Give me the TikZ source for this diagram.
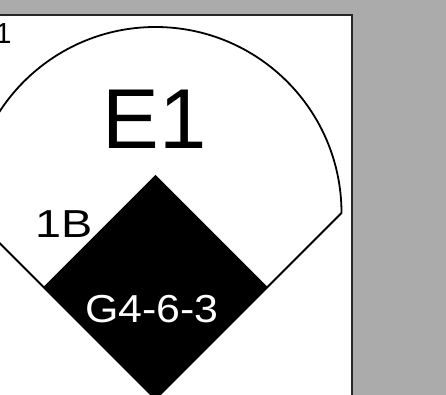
\documentclass[tikz,border=0pt]{standalone}
\usepackage{fontspec}
\setmainfont{Liberation Sans}

\definecolor{bggray}{RGB}{171,171,171}

\begin{document}
\begin{tikzpicture}[
  x=1pt, y=1pt,
  fieldline/.style={draw=black, line width=1.8pt, line join=round},
  cardbox/.style={fill=white, draw=black!85, line width=2pt},
  lbl/.style={inner sep=0pt, anchor=base west},
  bigtxt/.style={lbl, font=\fontsize{85}{85}\selectfont},
  smalltxt/.style={lbl, font=\fontsize{39}{39}\selectfont}
]
\clip (0,0) rectangle (446,395);
\fill[bggray] (0,0) rectangle (446,395);

% scorecard
\path[cardbox] (-5,-10) rectangle (352,380);

% infield
\fill[black] (155.5,-4) -- (267.5,108) -- (155.5,220) -- (43.5,108) -- cycle;

% foul lines and outfield fence
\coordinate (home) at (155.5,-4);
\coordinate (lfend) at (-30.5,182);
\coordinate (rfend) at (341.5,182);
\draw[fieldline] (lfend) -- (home) -- (rfend) arc[start angle=0, end angle=180, radius=186] -- cycle;

% labels
\node[lbl, font=\fontsize{29}{29}\selectfont] (inning) at (-4.8,351) {1};
\node[bigtxt] (score) at (102.3,246) {E1};
\node[smalltxt, xscale=1.2] (base) at (34.8,157) {1B};
\node[smalltxt, anchor=base, text=white, xscale=1.1] (play) at (152,72) {G4-6-3};

\end{tikzpicture}
\end{document}
